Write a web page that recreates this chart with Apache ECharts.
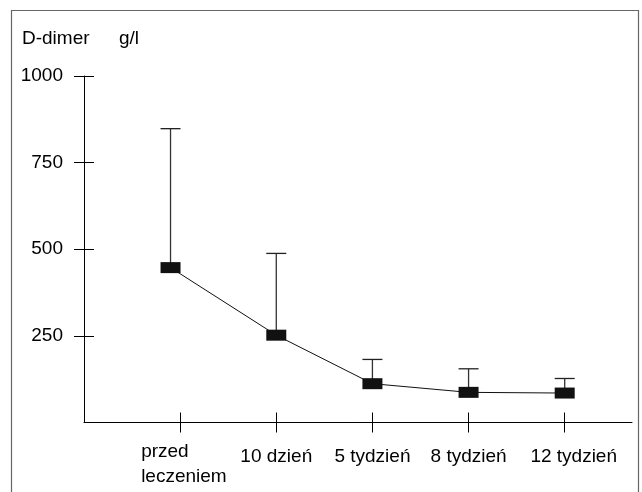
<!DOCTYPE html>
<html><head><meta charset="utf-8">
<script src="https://cdn.jsdelivr.net/npm/echarts@6/dist/echarts.min.js"></script>
<style>html,body{margin:0;padding:0;background:#fff}#c{width:642px;height:492px}</style>
</head><body><div id="c"></div>
<script>
// ---- data ----
const categories = ['przed\nleczeniem', '10 dzień', '5 tydzień', '8 tydzień', '12 tydzień'];
const categoryTicks = [1, 2, 3, 4, 5];
const pointX = [0.9, 2, 3, 4, 5];
const meanValues = [447, 252, 112, 87, 85];
const upperValues = [848, 488, 182, 155, 127];
const yTicks = [250, 500, 750, 1000];
const yTitle = 'D-dimer';
const yUnit = 'g/l';

// ---- chart ----
const chart = echarts.init(document.getElementById('c'), null, {renderer: 'canvas'});
const font = "'Liberation Sans', Arial, Helvetica, sans-serif";
const meanData = pointX.map((x, i) => [x, meanValues[i]]);
const errData = pointX.map((x, i) => [x, meanValues[i], upperValues[i]]);

function xLabel(v) {
  const i = categoryTicks.indexOf(v);
  if (i < 0) return '';
  const name = categories[i];
  if (i === 0) {
    const parts = name.split('\n');
    return '{first|' + parts[0] + '}\n{second|' + parts[1] + '}';
  }
  if (i === categories.length - 1) return '{last|' + name + '}';
  return '{n|' + name + '}';
}

const tickStyle = {color: '#000', width: 1};
const base = {fontFamily: font, fontSize: 19, color: '#000'};
const option = {
  animation: false,
  backgroundColor: '#fff',
  textStyle: {fontFamily: font},
  grid: {left: 84, right: 10, top: 76, bottom: 69.5},
  xAxis: [{
    type: 'value', min: 0, max: 5.7, position: 'bottom',
    axisLine: {show: true, onZero: false, lineStyle: {color: '#000', width: 1}},
    splitLine: {show: false},
    axisTick: {show: true, customValues: categoryTicks, length: 10, lineStyle: tickStyle},
    axisLabel: {
      customValues: categoryTicks, margin: 24, color: '#000',
      fontFamily: font, fontSize: 19,
      formatter: xLabel,
      rich: {
        n: Object.assign({lineHeight: 20}, base),
        last: Object.assign({lineHeight: 20, padding: [0, 0, 0, 18]}, base),
        first: Object.assign({width: 89, align: 'left', lineHeight: 10.6, padding: [0, 0, 0, 11]}, base),
        second: Object.assign({width: 89, align: 'left', lineHeight: 38.8, padding: [0, 0, 0, 11]}, base)
      }
    }
  }, {
    type: 'value', min: 0, max: 5.7, position: 'bottom',
    axisLine: {show: false, onZero: false},
    splitLine: {show: false},
    axisTick: {show: true, inside: true, customValues: categoryTicks, length: 10, lineStyle: tickStyle},
    axisLabel: {show: false}
  }],
  yAxis: [{
    type: 'value', min: 0, max: 1000, position: 'left',
    axisLine: {show: true, onZero: false, lineStyle: {color: '#000', width: 1}},
    splitLine: {show: false},
    axisTick: {show: true, customValues: yTicks, length: 10, lineStyle: tickStyle},
    axisLabel: {customValues: yTicks, margin: 21, color: '#000', fontFamily: font, fontSize: 19,
      formatter: v => String(v)}
  }, {
    type: 'value', min: 0, max: 1000, position: 'left',
    axisLine: {show: false, onZero: false},
    splitLine: {show: false},
    axisTick: {show: true, inside: true, customValues: yTicks, length: 10, lineStyle: tickStyle},
    axisLabel: {show: false}
  }],
  graphic: [
    {type: 'rect', silent: true, shape: {x: 11.5, y: 10.5, width: 627, height: 495},
     style: {fill: 'none', stroke: '#666', lineWidth: 1.2}},
    {type: 'text', left: 22, top: 29, style: {text: yTitle, font: '19px ' + font, fill: '#000'}},
    {type: 'text', left: 119, top: 29, style: {text: yUnit, font: '19px ' + font, fill: '#000'}}
  ],
  series: [{
    type: 'custom',
    xAxisIndex: 0, yAxisIndex: 0,
    data: errData,
    encode: {x: 0, y: [1, 2]},
    z: 2,
    renderItem: function (params, api) {
      const x = api.value(0), m = api.value(1), u = api.value(2);
      const p0 = api.coord([x, m]);
      const p1 = api.coord([x, u]);
      const half = 10;
      return {
        type: 'group',
        children: [
          {type: 'line', shape: {x1: p0[0], y1: p0[1], x2: p1[0], y2: p1[1]}, style: {stroke: '#333', lineWidth: 1.3}},
          {type: 'line', shape: {x1: p1[0] - half, y1: p1[1], x2: p1[0] + half, y2: p1[1]}, style: {stroke: '#222', lineWidth: 1.3}}
        ]
      };
    }
  }, {
    type: 'line',
    xAxisIndex: 0, yAxisIndex: 0,
    data: meanData,
    symbol: 'rect',
    symbolSize: [20, 11],
    itemStyle: {color: '#111', borderColor: '#111', borderWidth: 0},
    lineStyle: {color: '#111', width: 1},
    z: 3
  }]
};
chart.setOption(option);
</script>
</body></html>
